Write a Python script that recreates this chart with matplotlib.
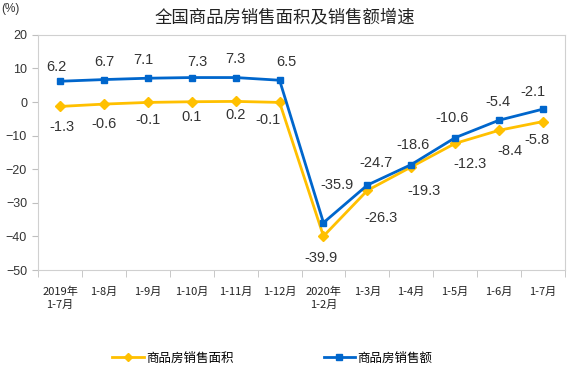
import matplotlib
matplotlib.use('Agg')
import matplotlib.pyplot as plt
import numpy as np

plt.rcParams['font.family'] = ['Liberation Sans', 'Noto Sans CJK SC', 'DejaVu Sans']

# Data (cumulative YoY growth, %)
months = ['2019年\n1-7月', '1-8月', '1-9月', '1-10月', '1-11月', '1-12月',
          '2020年\n1-2月', '1-3月', '1-4月', '1-5月', '1-6月', '1-7月']
area = [-1.3, -0.6, -0.1, 0.1, 0.2, -0.1, -39.9, -26.3, -19.3, -12.3, -8.4, -5.8]
sales = [6.2, 6.7, 7.1, 7.3, 7.3, 6.5, -35.9, -24.7, -18.6, -10.6, -5.4, -2.1]

# label offsets in points (dx, dy)
sales_off = [(-3, 10), (0, 13), (-3, 13), (4, 11), (0, 13), (5, 13),
             (10, 27), (6, 16), (1, 14), (-2, 14), (-1, 13), (-7, 12)]
area_off = [(1, -15), (0, -14), (0, -13), (0, -11), (0, -10), (-8, -13),
            (-2, -16), (10, -20), (9, -17), (11, -15), (8, -15), (-4, -13)]

yellow = '#FFC000'
blue = '#0066CC'

fig = plt.figure(figsize=(5.7, 3.71), dpi=100)
ax = fig.add_axes([0.067, 0.272, 0.924, 0.634])

x = np.arange(len(months))
ax.plot(x, area, color=yellow, lw=2, marker='D', ms=5, label='商品房销售面积', zorder=3)
ax.plot(x, sales, color=blue, lw=2, marker='s', ms=5, label='商品房销售额', zorder=4)

for i in x:
    ax.annotate(f'{sales[i]:.1f}', (i, sales[i]), xytext=sales_off[i], textcoords='offset points',
                ha='center', va='center', fontsize=10.5, color='#333333')
    ax.annotate(f'{area[i]:.1f}', (i, area[i]), xytext=area_off[i], textcoords='offset points',
                ha='center', va='center', fontsize=10.5, color='#333333')

ax.set_xlim(-0.5, len(months) - 0.5)
ax.set_ylim(-50, 20)
ax.set_yticks(range(-50, 21, 10))
ax.set_xticks(x)
ax.set_xticklabels(months, fontsize=8, family=['Noto Sans CJK SC'], linespacing=1.3,
                   color='#222222')
ax.set_xticks(np.arange(-0.5, len(months), 1), minor=True)
ax.tick_params(axis='x', which='major', length=0, pad=12)
ax.tick_params(axis='x', which='minor', length=5, color='#BFBFBF', direction='out')
ax.tick_params(axis='y', length=4, color='#BFBFBF', labelsize=9, labelcolor='#333333', pad=4)
for s in ax.spines.values():
    s.set_color('#D0D0D0')

fig.text(0.5, 0.952, '全国商品房销售面积及销售额增速', ha='center', va='center',
         fontsize=12.5, family=['Noto Sans CJK SC'], color='#222222')
fig.text(0.003, 0.975, '(%)', ha='left', va='center', fontsize=8.5, color='#333333')

leg = fig.legend(loc='center', bbox_to_anchor=(0.478, 0.035), ncol=2, frameon=False,
                 prop={'family': 'Noto Sans CJK SC', 'size': 9}, handlelength=2.5,
                 columnspacing=7.2, handletextpad=0.2, markerscale=0.8)

fig.savefig('out.png', dpi=100)
